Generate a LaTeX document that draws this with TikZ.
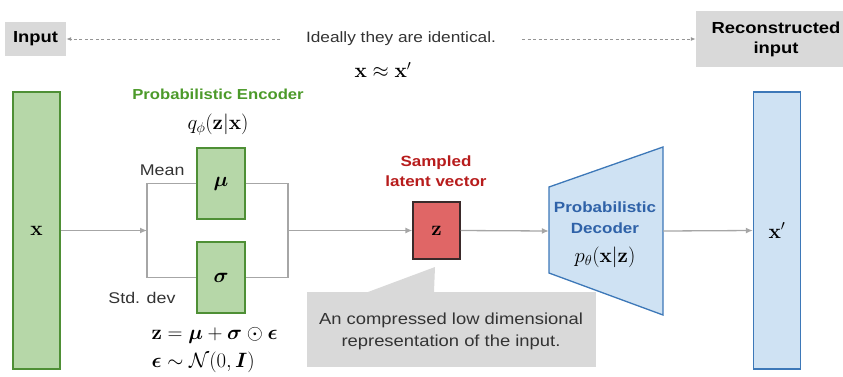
\documentclass[tikz,border=0pt]{standalone}
\usepackage{amsmath,bm}
\usepackage[no-math]{fontspec}
\setmainfont{Liberation Sans}[FakeStretch=1.15]
\usetikzlibrary{arrows.meta}

\definecolor{encfill}{HTML}{B6D7A8}
\definecolor{encline}{HTML}{4E8F35}
\definecolor{enctext}{HTML}{4C9A2A}
\definecolor{zfill}{HTML}{E06666}
\definecolor{zline}{HTML}{3A2A2A}
\definecolor{ztext}{HTML}{B71C1C}
\definecolor{decfill}{HTML}{CFE2F3}
\definecolor{decline}{HTML}{3D78B8}
\definecolor{dectext}{HTML}{2F62A8}
\definecolor{notefill}{HTML}{D9D9D9}
\definecolor{notetext}{HTML}{333333}
\definecolor{wire}{HTML}{A6A6A6}

\tikzset{
  encbox/.style={draw=encline, fill=encfill, line width=1.4pt, minimum width=48pt},
  outbox/.style={draw=decline, fill=decfill, line width=1.4pt, minimum width=47pt},
  greybox/.style={fill=notefill, inner sep=0pt},
  wireline/.style={draw=wire, line width=1.3pt},
  wirearrow/.style={wireline, -{Latex[length=7pt,width=6pt]}},
  dotarrow/.style={draw=wire!90!black, line width=1pt, dash pattern=on 3pt off 2.5pt,
                   -{Latex[length=5pt,width=4pt]}},
  mathlabel/.style={font=\fontsize{19.5}{23}\selectfont},
  plainlabel/.style={font=\fontsize{15.5}{19}\selectfont, text=notetext},
}

\begin{document}
\begin{tikzpicture}[x=1pt,y=-1pt]
\useasboundingbox (0,0) rectangle (843,376);

% top row: input, remark, reconstruction
\node[greybox, minimum width=61pt, minimum height=34pt,
      font=\fontsize{16}{19}\selectfont\bfseries] (input) at (35.5,39) {Input};
\node[greybox, minimum width=154pt, minimum height=56pt] (recon) at (773,39) {};
\node[font=\fontsize{16}{20}\selectfont\bfseries, align=center] (recontext) at (776,39)
  {Reconstructed\\input};
\node[font=\fontsize{15}{18}\selectfont, text=notetext] (ideal) at (401,39)
  {Ideally they are identical.};
\node[mathlabel, font=\fontsize{20}{23}\selectfont] (approx) at (383,70)
  {$\mathbf{x} \approx \mathbf{x}'$};
\coordinate (lstart) at (280,39);
\coordinate (rstart) at (522,39);
\draw[dotarrow] (lstart) -- (input.east);
\draw[dotarrow] (rstart) -- (recon.west);

% input column
\node[encbox, minimum width=47pt, minimum height=277pt, mathlabel] (xin) at (36.5,230.5)
  {$\mathbf{x}$};

% encoder
\node[font=\fontsize{14.5}{18}\selectfont\bfseries, text=enctext] (enclabel) at (218,94)
  {Probabilistic Encoder};
\node[mathlabel] (qphi) at (218,125) {$q_\phi(\mathbf{z}|\mathbf{x})$};
\node[encbox, minimum height=71pt, mathlabel] (mu) at (221,183.5) {$\bm{\mu}$};
\node[encbox, minimum height=71pt, mathlabel] (sigma) at (221,277.5) {$\bm{\sigma}$};
\node[plainlabel, anchor=east] (meanlabel) at (188,170) {Mean};
\node[plainlabel, anchor=east] (stdlabel) at (179,298) {Std. dev};
\node[mathlabel, anchor=west] (eqz) at (148,335)
  {$\mathbf{z} = \bm{\mu} + \bm{\sigma} \odot \bm{\epsilon}$};
\node[mathlabel, anchor=west] (eqeps) at (148,362)
  {$\bm{\epsilon} \sim \mathcal{N}(0, \bm{I})$};

\coordinate (split) at (147,230.5);
\coordinate (join) at (288,230.5);
\draw[wirearrow] (xin.east) -- (split);
\draw[wireline] (mu.west) -| (split) |- (sigma.west);
\draw[wireline] (mu.east) -| (join) |- (sigma.east);

% latent sample
\node[font=\fontsize{14.8}{19.5}\selectfont\bfseries, text=ztext, align=center]
  (zlabel) at (436,171) {Sampled\\latent vector};
\node[draw=zline, fill=zfill, line width=1.3pt, minimum width=47pt, minimum height=57pt,
      mathlabel] (z) at (436.5,230.5) {$\mathbf{z}$};
\draw[wirearrow] (join) -- (z.west);

% callout under the latent vector
\node[greybox, minimum width=289pt, minimum height=75pt] (note) at (451.5,329) {};
\coordinate (notetip) at (435,267);
\fill[notefill] (368,292) -- (notetip) -- (434,292) -- cycle;
\node[font=\fontsize{16}{22}\selectfont, text=notetext, align=center] (notetext) at (451,331)
  {An compressed low dimensional\\representation of the input.};

% decoder
\node[minimum width=114pt, minimum height=168pt, inner sep=0pt] (dec) at (606,231) {};
\draw[draw=decline, fill=decfill, line width=1.3pt]
  (549,187) -- (663,147) -- (663,315) -- (549,273) -- cycle;
\node[font=\fontsize{14.8}{21}\selectfont\bfseries, text=dectext, align=center]
  (declabel) at (605,218) {Probabilistic\\Decoder};
\node[mathlabel] (ptheta) at (605,257) {$p_\theta(\mathbf{x}|\mathbf{z})$};
\draw[wirearrow] (z.east) -- (dec.west);

% output column
\node[outbox, minimum height=277pt, mathlabel] (xout) at (777,230.5) {$\mathbf{x}'$};
\draw[wirearrow] (dec.east) -- (xout.west);

\end{tikzpicture}
\end{document}
